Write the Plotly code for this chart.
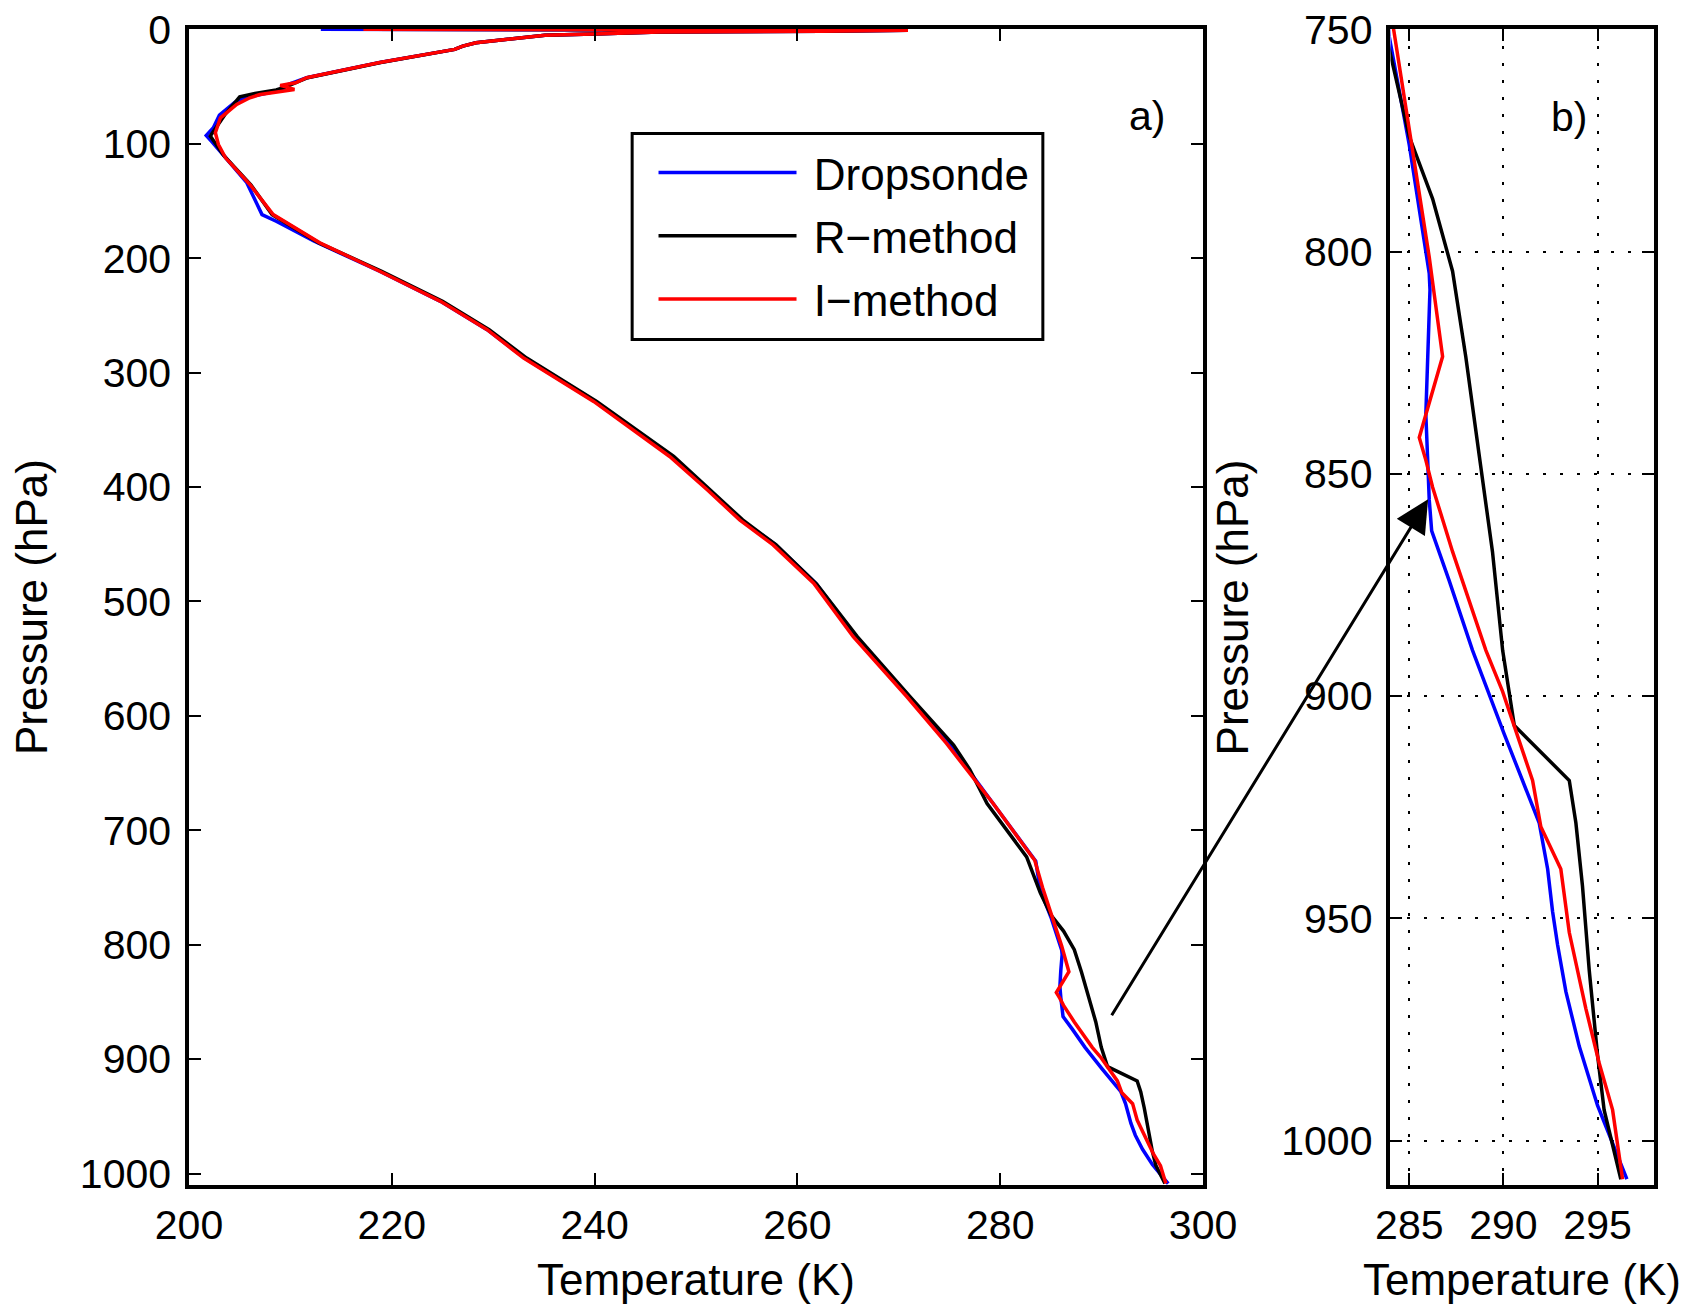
import plotly.graph_objects as go

# ---- data (pressure in hPa, temperature in K) ----
P_DROP = [0, 0.9, 1.7, 2.3, 4.1, 5.2, 11.7, 14.6, 17.5, 29, 42.3, 46.7, 50, 52.5, 56.5,
          60, 64, 75, 86, 92.7, 97.7, 106.4, 112, 134, 161.9, 167.7, 185, 211.4, 237.7,
          262.5, 287.3, 325, 373, 402, 428.7, 450, 484, 530.8, 583, 625, 650, 677, 720,
          727, 751.7, 776, 804.9, 808.6, 822.6, 836.6, 846, 855.8, 862.8, 874, 889.7,
          908.5, 928.5, 938.9, 948.4, 956, 966.5, 978.8, 992.1, 998.8, 1008.7]
T_DROP = [213.0, 270.9, 262.4, 246.4, 239.9, 235.1, 228.3, 227.0, 226.2, 218.8, 211.6,
          210.3, 209.2, 209.4, 207.3, 205.5, 204.5, 203.0, 202.4, 201.7, 202.2, 203.1,
          203.6, 205.7, 207.2, 208.6, 212.3, 218.8, 224.8, 229.4, 233.1, 240.0, 247.5,
          251.2, 254.4, 257.8, 261.8, 265.8, 271.0, 275.0, 277.1, 279.4, 283.0, 283.5,
          283.94, 285.0, 286.06, 286.1, 285.97, 285.88, 285.97, 286.06, 286.19, 287.12,
          288.36, 290.04, 291.9, 292.35, 292.61, 292.88, 293.32, 294.03, 295.0, 295.62,
          296.56]

P_RMETH = [0, 0.9, 1.7, 2.3, 4.1, 5.2, 11.7, 14.6, 17.5, 29, 42.3, 46.7, 50, 53, 56,
           59, 63, 75, 93.3, 110, 136, 161.9, 186.6, 211.4, 237.7, 262.5, 287.3, 325.2,
           373.3, 402.4, 428.7, 450.6, 485, 530.8, 583.3, 625.5, 647, 676.6, 723.3,
           754.5, 774.1, 788.1, 804.4, 823.6, 846, 867.5, 889.7, 906.6, 919, 928.5,
           942.7, 961.7, 980.7, 993.1, 1008.7]
T_RMETH = [217.5, 270.9, 262.4, 246.4, 239.9, 235.1, 228.3, 227.0, 226.2, 218.9, 211.7,
           210.6, 209.6, 208.6, 206.5, 205.0, 204.6, 203.5, 202.1, 203.4, 206.1, 208.2,
           212.8, 219.0, 225.0, 229.6, 233.3, 240.2, 247.8, 251.4, 254.6, 257.9, 261.9,
           265.9, 271.1, 275.4, 277.0, 278.7, 282.6, 283.94, 285.0, 286.24, 287.3, 288.0,
           288.72, 289.42, 289.96, 290.58, 293.5, 293.85, 294.2, 294.56, 295.0, 295.35,
           296.24]

P_IMETH = [0, 0.9, 1.7, 2.3, 4.1, 5.2, 11.7, 14.6, 17.5, 29, 42.3, 46.7, 49, 52.5, 57,
           59.8, 65.6, 77.3, 90.4, 100.6, 112.3, 135.6, 161.9, 186.6, 211.4, 237.7,
           262.5, 287.3, 325.2, 373.3, 402.4, 428.7, 450.6, 484.1, 530.8, 583.3, 624.1,
           650.3, 676.6, 720.3, 726.2, 750, 776.9, 801.2, 823.6, 841.8, 846.9, 853,
           867.5, 889.7, 899, 906.6, 919, 929.4, 938.9, 953.2, 970.3, 982.6, 993.1,
           1008.7]
T_IMETH = [217.2, 270.9, 262.4, 246.4, 239.9, 235.1, 228.3, 227.0, 226.2, 218.8, 211.6,
           210.5, 209.0, 210.4, 207.0, 206.0, 204.7, 203.1, 202.6, 202.9, 203.6, 206.0,
           208.3, 212.9, 218.8, 224.8, 229.4, 233.0, 239.9, 247.4, 251.1, 254.3, 257.6,
           261.6, 265.5, 270.8, 274.7, 277.0, 279.3, 282.9, 283.4, 284.17, 285.18,
           286.06, 286.77, 285.53, 285.88, 286.24, 287.3, 289.07, 289.96, 290.58,
           291.55, 291.99, 293.05, 293.5, 294.38, 295.09, 295.8, 296.33]

SERIES = [
    ("Dropsonde", P_DROP, T_DROP, "#0000ff"),
    ("R\u2212method", P_RMETH, T_RMETH, "#000000"),
    ("I\u2212method", P_IMETH, T_IMETH, "#ff0000"),
]

XTICKS_A = [200, 220, 240, 260, 280, 300]
YTICKS_A = [0, 100, 200, 300, 400, 500, 600, 700, 800, 900, 1000]
XTICKS_B = [285, 290, 295]
YTICKS_B = [750, 800, 850, 900, 950, 1000]

X_TITLE = "Temperature (K)"
Y_TITLE = "Pressure (hPa)"

XRANGE_A, YRANGE_A = [200, 300], [1010, -0.3]
XRANGE_B, YRANGE_B = [284, 298], [1010, 749.9]

# arrow: tail in panel a, head on the dropsonde profile in panel b
ARROW_TAIL = (290.9, 863.0)
ARROW_HEAD = (286.0, 855.7)

# legend box corners in panel-a data units (T, p)
LEGEND_BOX = (243.7, 91.0, 284.2, 271.0)
LEGEND_ANCHOR = (246.3, 94.5)   # where the first sample line starts / top of entries

# ---- layout geometry (page body adds an 8px margin) ----
FIG_W, FIG_H = 1684, 1296
M = dict(l=181, r=38, t=21, b=119)
PW, PH = FIG_W - M["l"] - M["r"], FIG_H - M["t"] - M["b"]
DOM_A = [0.0, 0.6922]
DOM_B = [0.8201, 1.0]

FONT = "Liberation Sans, Arial, sans-serif"
TICK_SIZE = 41
TITLE_SIZE = 44
LINE_W = 3.5


def to_paper(x, y, xr, yr, xdom):
    fx = xdom[0] + (x - xr[0]) / (xr[1] - xr[0]) * (xdom[1] - xdom[0])
    fy = (y - yr[0]) / (yr[1] - yr[0])
    return fx, fy


def to_px(x, y, xr, yr, xdom):
    fx, fy = to_paper(x, y, xr, yr, xdom)
    return M["l"] + fx * PW, M["t"] + (1 - fy) * PH


fig = go.Figure()

for name, p, t, color in SERIES:
    fig.add_trace(go.Scatter(
        x=t, y=p, mode="lines", name="\u00a0" + name,
        line=dict(color=color, width=LINE_W),
        legendgroup=name, xaxis="x", yaxis="y",
    ))
    fig.add_trace(go.Scatter(
        x=t, y=p, mode="lines", name=name,
        line=dict(color=color, width=LINE_W),
        legendgroup=name, showlegend=False, xaxis="x2", yaxis="y2",
    ))

axis_common = dict(
    showline=True, linecolor="black", linewidth=3.5, mirror="ticks",
    ticks="inside", ticklen=12, tickwidth=2, tickcolor="black",
    tickfont=dict(family=FONT, size=TICK_SIZE, color="black"),
    zeroline=False, automargin=False, ticklabeloverflow="allow",
)
grid_b = dict(showgrid=True, gridcolor="black", gridwidth=2, griddash="3px,14px")

lx, ly = to_paper(*LEGEND_ANCHOR, XRANGE_A, YRANGE_A, DOM_A)

fig.update_layout(
    width=FIG_W, height=FIG_H, margin=dict(M, autoexpand=False),
    paper_bgcolor="white", plot_bgcolor="white",
    font=dict(family=FONT, color="black"),
    xaxis=dict(domain=DOM_A, range=XRANGE_A, tickvals=XTICKS_A, showgrid=False,
               ticklabelstandoff=1, **axis_common),
    yaxis=dict(domain=[0, 1], range=YRANGE_A, tickvals=YTICKS_A, showgrid=False,
               ticklabelstandoff=6, **axis_common),
    xaxis2=dict(domain=DOM_B, range=XRANGE_B, tickvals=XTICKS_B, anchor="y2",
                ticklabelstandoff=1, **grid_b, **axis_common),
    yaxis2=dict(domain=[0, 1], range=YRANGE_B, tickvals=YTICKS_B, anchor="x2",
                ticklabelstandoff=6, **grid_b, **axis_common),
    showlegend=True,
    legend=dict(
        x=lx - 5 / PW, y=ly, xanchor="left", yanchor="top",
        bgcolor="rgba(0,0,0,0)", borderwidth=0,
        font=dict(family=FONT, size=TITLE_SIZE, color="black"),
        itemwidth=138, tracegroupgap=3,
    ),
)

# axis titles, placed relative to each panel's domain
title_font = dict(family=FONT, size=TITLE_SIZE, color="black")
for xa, ya in (("x", "y"), ("x2", "y2")):
    fig.add_annotation(x=0.5, y=0, xref=f"{xa} domain", yref=f"{ya} domain",
                       text=X_TITLE, showarrow=False, xanchor="center",
                       yanchor="middle", yshift=-94, font=title_font)
    fig.add_annotation(x=0, y=0.5, xref=f"{xa} domain", yref=f"{ya} domain",
                       text=Y_TITLE, showarrow=False, textangle=-90,
                       xanchor="center", yanchor="middle", xshift=-158,
                       font=title_font)

# legend frame
fig.add_shape(type="rect", xref="x", yref="y",
              x0=LEGEND_BOX[0], y0=LEGEND_BOX[1], x1=LEGEND_BOX[2], y1=LEGEND_BOX[3],
              line=dict(color="black", width=3), fillcolor="white", layer="below")

hx, hy = to_px(*ARROW_HEAD, XRANGE_B, YRANGE_B, DOM_B)
tx, ty = to_px(*ARROW_TAIL, XRANGE_A, YRANGE_A, DOM_A)
fig.add_annotation(
    x=ARROW_HEAD[0], y=ARROW_HEAD[1], xref="x2", yref="y2",
    ax=tx - hx, ay=ty - hy, axref="pixel", ayref="pixel",
    text="", showarrow=True, arrowhead=2, arrowsize=2.2, arrowwidth=3,
    arrowcolor="black",
)

fig.add_annotation(x=294.5, y=76, xref="x", yref="y", text="a)", showarrow=False,
                   font=dict(family=FONT, size=TICK_SIZE, color="black"))
fig.add_annotation(x=293.5, y=769.6, xref="x2", yref="y2", text="b)", showarrow=False,
                   font=dict(family=FONT, size=TICK_SIZE, color="black"))

fig.write_html("out.html")
